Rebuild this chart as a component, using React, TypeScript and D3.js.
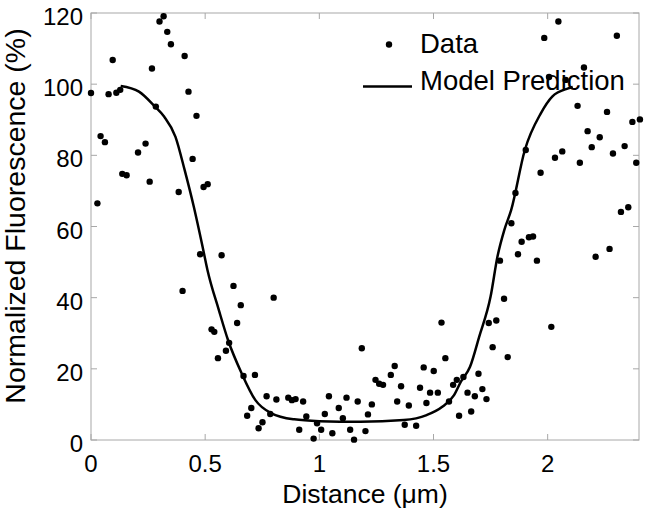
import React from "react";
import * as d3 from "d3";

const dataX = [0.000,0.028,0.042,0.061,0.077,0.095,0.111,0.128,0.137,0.156,0.206,0.239,0.257,0.267,0.284,0.300,0.318,0.334,0.350,0.384,0.401,0.410,0.427,0.445,0.462,0.478,0.493,0.511,0.528,0.540,0.556,0.572,0.591,0.605,0.624,0.640,0.656,0.668,0.684,0.702,0.718,0.734,0.751,0.769,0.785,0.800,0.812,0.864,0.880,0.896,0.912,0.929,0.943,0.975,0.990,1.008,1.024,1.042,1.057,1.085,1.103,1.119,1.135,1.152,1.168,1.186,1.202,1.213,1.230,1.246,1.262,1.279,1.313,1.330,1.341,1.358,1.374,1.392,1.424,1.441,1.457,1.469,1.485,1.501,1.519,1.535,1.552,1.568,1.586,1.602,1.612,1.631,1.649,1.665,1.681,1.697,1.714,1.732,1.742,1.759,1.775,1.791,1.809,1.825,1.841,1.859,1.870,1.886,1.904,1.918,1.936,1.953,1.969,1.985,2.006,2.016,2.032,2.047,2.064,2.079,2.131,2.141,2.159,2.175,2.193,2.210,2.228,2.260,2.271,2.286,2.303,2.321,2.337,2.353,2.371,2.388,2.404];
const dataY = [97.5,66.5,85.4,83.7,97.2,106.8,97.6,98.4,74.8,74.4,80.8,83.3,72.6,104.4,93.7,117.6,119.1,114.7,111.2,69.7,41.9,107.9,97.9,79.0,91.1,52.2,71.1,71.9,31.1,30.4,23.0,51.9,25.1,27.3,43.3,32.9,37.9,18.0,6.8,9.0,18.3,3.3,5.0,12.3,7.3,40.0,11.4,11.9,11.2,11.5,2.9,10.8,6.6,0.4,4.7,2.9,7.3,12.3,1.9,9.0,6.1,11.9,2.9,0.1,10.8,25.8,2.5,7.2,10.0,16.9,15.8,15.5,18.3,20.8,10.8,15.1,4.3,9.7,4.0,14.7,20.4,10.4,13.3,19.4,13.3,33.0,23.0,10.8,15.5,16.9,6.8,17.7,13.3,8.0,12.3,18.6,14.3,11.5,32.9,26.1,33.6,50.4,39.7,23.3,60.9,69.4,52.2,55.7,81.5,57.0,57.2,50.4,75.1,113.0,102.0,31.8,79.3,117.6,81.1,101.2,93.9,77.9,104.7,86.8,82.3,51.5,85.1,92.2,53.7,80.5,113.6,64.1,82.6,65.4,89.4,77.9,90.1];

const modelX = [0.13,0.21,0.28,0.32,0.37,0.41,0.45,0.49,0.51,0.56,0.60,0.66,0.72,0.79,0.89,1.0,1.18,1.37,1.47,1.54,1.59,1.62,1.66,1.70,1.75,1.78,1.81,1.84,1.90,1.97,2.02,2.09,2.11];
const modelY = [99.5,97.9,93.7,90.9,85.2,75.9,65.6,53.9,47.8,36.5,28.1,18.7,11.2,7.5,5.8,5.3,5.1,5.6,7.0,9.4,12.6,16.4,20.6,29.0,40.3,51.5,59.0,64.6,81.5,91.8,96.5,98.8,99.2];

const xTicks = [0, 0.5, 1, 1.5, 2];
const xTickLabels = ["0", "0.5", "1", "1.5", "2"];
const yTicks = [0, 20, 40, 60, 80, 100, 120];

const W = 648, H = 509;
const L = 91, R = 639, T = 13, B = 440;
const FONT = "'Liberation Sans', Arial, Helvetica, sans-serif";

export default function App() {
  const x = d3.scaleLinear().domain([0, 2.4]).range([L, R]);
  const y = d3.scaleLinear().domain([0, 120]).range([B, T]);
  const line = d3.line<number>().x((_, i) => x(modelX[i])).y((_, i) => y(modelY[i])).curve(d3.curveMonotoneX);
  const tickLen = 6;
  const axisCol = "#a8a8a8";
  return (
    <svg width={W} height={H} style={{ position: "absolute", left: 0, top: 0, background: "#fff" }} fontFamily={FONT}>
      <rect x={0} y={0} width={W} height={H} fill="#fff" />
      <rect x={L} y={T} width={R - L} height={B - T} fill="none" stroke={axisCol} strokeWidth={1} />
      {xTicks.map((t) => (
        <g key={"xt" + t}>
          <line x1={x(t)} x2={x(t)} y1={B} y2={B - tickLen} stroke={axisCol} />
          <line x1={x(t)} x2={x(t)} y1={T} y2={T + tickLen} stroke={axisCol} />
        </g>
      ))}
      {yTicks.map((t) => (
        <g key={"yt" + t}>
          <line x1={L} x2={L + tickLen} y1={y(t)} y2={y(t)} stroke={axisCol} />
          <line x1={R} x2={R - tickLen} y1={y(t)} y2={y(t)} stroke={axisCol} />
        </g>
      ))}
      {xTicks.map((t, i) => (
        <text key={"xl" + t} x={x(t)} y={B + 32} fontSize={24} textAnchor="middle" fill="#000">{xTickLabels[i]}</text>
      ))}
      {yTicks.map((t) => (
        <text key={"yl" + t} x={L - 8} y={y(t) + 12} fontSize={24} textAnchor="end" fill="#000">{t}</text>
      ))}
      <text x={365} y={503} fontSize={26.5} textAnchor="middle" fill="#000">Distance (μm)</text>
      <text transform={`translate(25,216) rotate(-90)`} fontSize={28.5} textAnchor="middle" fill="#000">Normalized Fluorescence (%)</text>
      <path d={line(modelX) || ""} fill="none" stroke="#000" strokeWidth={2.5} />
      {dataX.map((v, i) => (
        <circle key={"p" + i} cx={x(v)} cy={y(dataY[i])} r={3.2} fill="#000" />
      ))}
      <circle cx={389} cy={44.5} r={3.2} fill="#000" />
      <text x={420} y={53} fontSize={27.5} fill="#000">Data</text>
      <line x1={363} x2={412} y1={86.5} y2={86.5} stroke="#000" strokeWidth={2.5} />
      <text x={420} y={90} fontSize={27.5} fill="#000">Model Prediction</text>
    </svg>
  );
}
